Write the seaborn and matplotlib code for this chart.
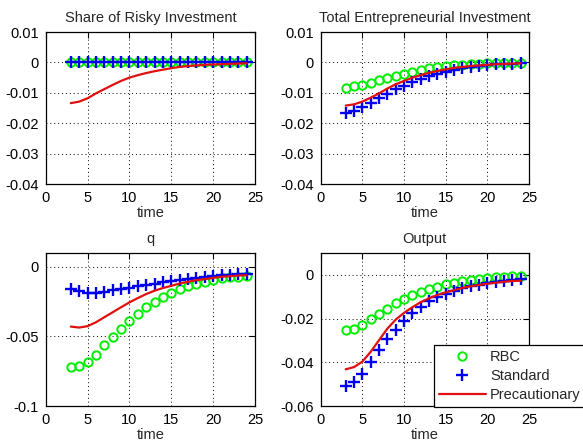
import matplotlib
matplotlib.use("Agg")
import matplotlib.pyplot as plt
import seaborn as sns
from matplotlib.lines import Line2D
from matplotlib.ticker import FuncFormatter

# Impulse responses, periods 3..24
time = [3, 4, 5, 6, 7, 8, 9, 10, 11, 12, 13, 14, 15, 16, 17, 18, 19, 20, 21, 22, 23, 24]

# Share of risky investment
share_rbc = [0, 0, 0, 0, 0, 0, 0, 0, 0, 0, 0, 0, 0, 0, 0, 0, 0, 0, 0, 0, 0, 0]
share_std = [0, 0, 0, 0, 0, 0, 0, 0, 0, 0, 0, 0, 0, 0, 0, 0, 0, 0, 0, 0, 0, 0]
share_prec = [-0.0134, -0.0129, -0.0118, -0.0102, -0.0088, -0.0074, -0.0061, -0.0050,
              -0.0042, -0.0035, -0.0029, -0.0024, -0.0019, -0.0015, -0.0012, -0.0010,
              -0.0008, -0.0007, -0.0006, -0.0005, -0.0004, -0.0003]

# Total entrepreneurial investment
inv_rbc = [-0.0085, -0.0079, -0.0074, -0.0067, -0.0059, -0.0051, -0.0044, -0.0037,
           -0.0031, -0.0025, -0.0020, -0.0016, -0.0012, -0.0009, -0.0007, -0.0005,
           -0.0004, -0.0003, -0.0002, -0.0002, -0.0001, -0.0001]
inv_std = [-0.0165, -0.0159, -0.0147, -0.0134, -0.0118, -0.0104, -0.0089, -0.0076,
           -0.0065, -0.0054, -0.0045, -0.0037, -0.0030, -0.0024, -0.0018, -0.0014,
           -0.0011, -0.0007, -0.0005, -0.0004, -0.0004, -0.0003]
inv_prec = [-0.0142, -0.0138, -0.0129, -0.0116, -0.0102, -0.0086, -0.0072, -0.0061,
            -0.0050, -0.0042, -0.0034, -0.0028, -0.0023, -0.0018, -0.0015, -0.0012,
            -0.0010, -0.0008, -0.0006, -0.0005, -0.0004, -0.0003]

# q
q_rbc = [-0.0719, -0.0714, -0.0683, -0.0631, -0.0564, -0.0505, -0.0445, -0.0390,
         -0.0338, -0.0290, -0.0255, -0.0219, -0.0190, -0.0160, -0.0140, -0.0121,
         -0.0107, -0.0093, -0.0083, -0.0076, -0.0069, -0.0064]
q_std = [-0.0160, -0.0176, -0.0188, -0.0188, -0.0179, -0.0169, -0.0160, -0.0150,
         -0.0140, -0.0131, -0.0121, -0.0112, -0.0102, -0.0095, -0.0088, -0.0081,
         -0.0074, -0.0064, -0.0060, -0.0055, -0.0052, -0.0048]
q_prec = [-0.0429, -0.0436, -0.0426, -0.0398, -0.0362, -0.0326, -0.0290, -0.0255,
          -0.0224, -0.0195, -0.0171, -0.0152, -0.0136, -0.0119, -0.0107, -0.0095,
          -0.0088, -0.0079, -0.0071, -0.0067, -0.0062, -0.0060]

# Output
y_rbc = [-0.0252, -0.0249, -0.0229, -0.0202, -0.0180, -0.0154, -0.0131, -0.0112,
         -0.0094, -0.0079, -0.0066, -0.0054, -0.0044, -0.0036, -0.0029, -0.0023,
         -0.0018, -0.0014, -0.0011, -0.0008, -0.0005, -0.0003]
y_std = [-0.0508, -0.0490, -0.0453, -0.0397, -0.0344, -0.0294, -0.0251, -0.0210,
         -0.0175, -0.0148, -0.0121, -0.0103, -0.0088, -0.0073, -0.0062, -0.0053,
         -0.0045, -0.0038, -0.0032, -0.0027, -0.0022, -0.0018]
y_prec = [-0.0432, -0.0422, -0.0397, -0.0352, -0.0299, -0.0246, -0.0205, -0.0174,
          -0.0148, -0.0125, -0.0107, -0.0092, -0.0080, -0.0070, -0.0060, -0.0052,
          -0.0046, -0.0041, -0.0036, -0.0032, -0.0028, -0.0027]

titles = ["Share of Risky Investment", "Total Entrepreneurial Investment", "q", "Output"]
series = [
    (share_rbc, share_std, share_prec),
    (inv_rbc, inv_std, inv_prec),
    (q_rbc, q_std, q_prec),
    (y_rbc, y_std, y_prec),
]
ylims = [(-0.04, 0.01), (-0.04, 0.01), (-0.1, 0.01), (-0.06, 0.01)]
yticks = [
    [-0.04, -0.03, -0.02, -0.01, 0, 0.01],
    [-0.04, -0.03, -0.02, -0.01, 0, 0.01],
    [-0.1, -0.05, 0],
    [-0.06, -0.04, -0.02, 0],
]
xticks = [0, 5, 10, 15, 20, 25]
legend_labels = ["RBC", "Standard", "Precautionary"]

GREEN = "#00ee00"
BLUE = "#0000ee"
RED = "#e01010"

sns.set_style("white")
plt.rcParams["font.family"] = ["Liberation Sans", "DejaVu Sans"]
plt.rcParams["axes.unicode_minus"] = False

fig = plt.figure(figsize=(5.83, 4.44), dpi=100)
W, H = 583, 444
boxes = [
    (45.7, 32, 255, 184),
    (320.7, 32, 529, 184),
    (45.7, 253, 255, 406),
    (320.7, 253, 529, 406),
]

fmt = FuncFormatter(lambda v, _: "%g" % round(v, 6))

circle_kw = dict(linestyle="none", marker="o", markersize=6, markerfacecolor="none",
                 markeredgecolor=GREEN, markeredgewidth=1.4)
plus_kw = dict(linestyle="none", marker="+", markersize=8, markeredgewidth=1.7,
               markeredgecolor=BLUE)
line_kw = dict(color=RED, linewidth=1.6)

axes = []
for i, (l, t, r, b) in enumerate(boxes):
    ax = fig.add_axes([l / W, 1 - b / H, (r - l) / W, (b - t) / H])
    rbc, std, prec = series[i]
    sns.lineplot(x=time, y=rbc, ax=ax, color=GREEN, **circle_kw)
    sns.lineplot(x=time, y=std, ax=ax, color=BLUE, **plus_kw)
    sns.lineplot(x=time, y=prec, ax=ax, **line_kw)

    ax.set_xlim(0, 25)
    ax.set_ylim(*ylims[i])
    ax.set_xticks(xticks)
    ax.set_yticks(yticks[i])
    ax.yaxis.set_major_formatter(fmt)
    ax.grid(True, color="black", linestyle=(0, (1, 3)), linewidth=0.7)
    for s in ax.spines.values():
        s.set_visible(True)
        s.set_color("black")
        s.set_linewidth(0.9)
    ax.tick_params(direction="in", length=4, width=0.8, top=True, right=True,
                   labelsize=10.5, pad=5, colors="black")
    ax.set_title(titles[i], fontsize=10.5, pad=7)
    ax.set_xlabel("time", fontsize=10.5, labelpad=1)
    axes.append(ax)

handles = [
    Line2D([], [], color=GREEN, **circle_kw),
    Line2D([], [], color=BLUE, **plus_kw),
    Line2D([], [], **line_kw),
]
leg = axes[3].legend(handles, legend_labels, loc="lower left",
                     bbox_to_anchor=(434 / W, 1 - 407 / H), bbox_transform=fig.transFigure,
                     fontsize=10.5, frameon=True, fancybox=False, framealpha=1,
                     edgecolor="black", handlelength=3.2, handletextpad=0.3,
                     labelspacing=0.35, borderpad=0.35, borderaxespad=0)
leg.get_frame().set_linewidth(0.9)

fig.savefig("out.png", dpi=100, facecolor="white")
